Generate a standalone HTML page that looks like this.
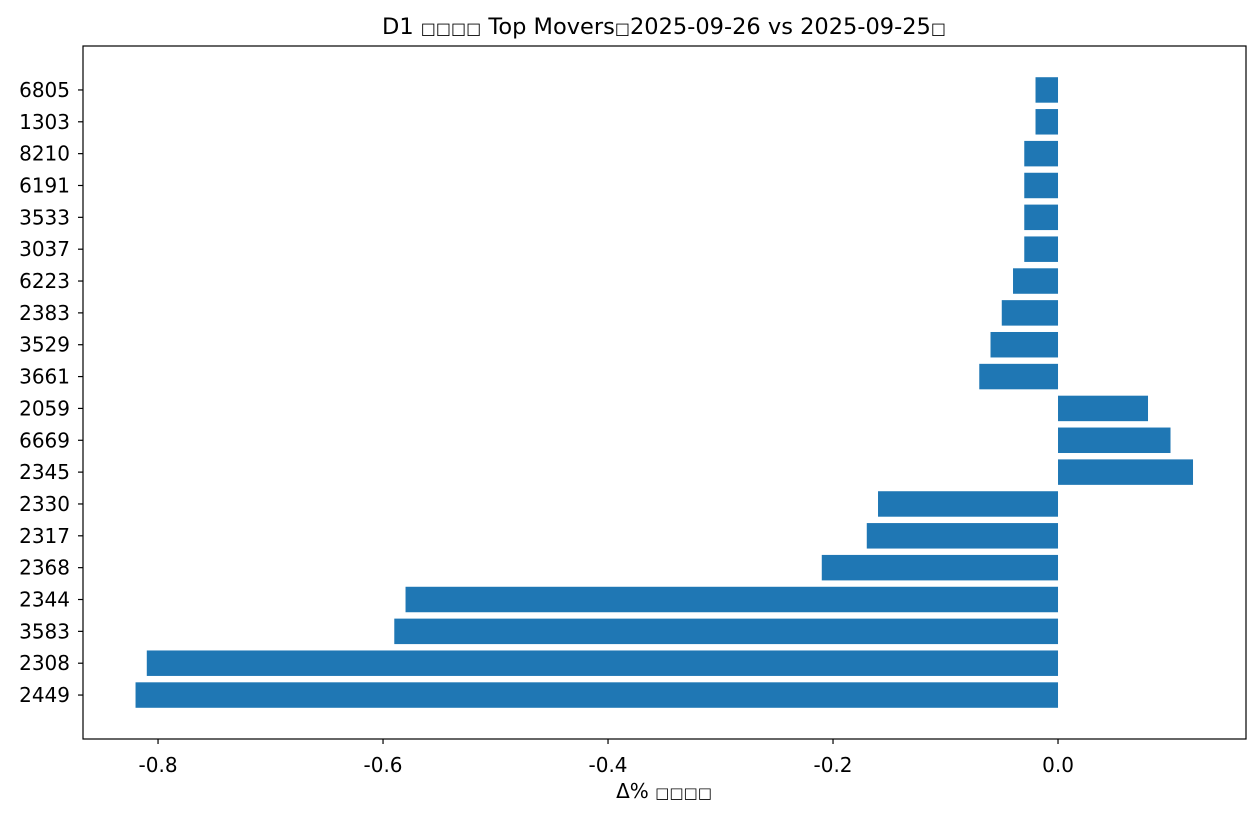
<!DOCTYPE html>
<html><head><meta charset="utf-8"><style>
html,body{margin:0;padding:0;background:#fff;}
svg{display:block;font-family:"DejaVu Sans","Liberation Sans",sans-serif;}
</style></head><body>
<svg id="chart" width="1260" height="817" viewBox="0 0 1260 817" xmlns="http://www.w3.org/2000/svg">
<text x="664" y="34" font-size="22.5" text-anchor="middle" fill="#000">D1 <tspan font-size="16">□□□□</tspan> Top Movers<tspan font-size="16">□</tspan>2025-09-26 vs 2025-09-25<tspan font-size="16">□</tspan></text>
<text x="664" y="798" font-size="20" text-anchor="middle" fill="#000">Δ% <tspan font-size="15">□□□□</tspan></text>
<g id="bars"></g>
<g id="xticks"></g>
<g id="yticks"></g>
<rect x="83" y="46" width="1163" height="693" fill="none" stroke="#000" stroke-width="1.2"/>
</svg>
<script>
const categories = ["2449","2308","3583","2344","2368","2317","2330","2345","6669","2059","3661","3529","2383","6223","3037","3533","6191","8210","1303","6805"];
const values = [-0.82,-0.81,-0.59,-0.58,-0.21,-0.17,-0.16,0.12,0.10,0.08,-0.07,-0.06,-0.05,-0.04,-0.03,-0.03,-0.03,-0.03,-0.02,-0.02];
const xTicks = [-0.8,-0.6,-0.4,-0.2,0.0];
const xTickLabels = ["-0.8","-0.6","-0.4","-0.2","0.0"];

const NS = "http://www.w3.org/2000/svg";
const plotL = 83, plotR = 1246, plotT = 46, plotB = 739;
const xMin = -0.8667, xMax = 0.1671;
const yMin = -1.38, yMax = categories.length - 1 + 1.38;
function xs(v){ return plotL + (v - xMin) / (xMax - xMin) * (plotR - plotL); }
function ys(i){ return plotB - (i - yMin) / (yMax - yMin) * (plotB - plotT); }
const step = ys(0) - ys(1);
const bh = step * 0.8;

const bars = document.getElementById("bars");
values.forEach((v, i) => {
  const r = document.createElementNS(NS, "rect");
  
  
  const x0 = xs(0), x1 = xs(v);
  r.setAttribute("x", Math.min(x0, x1));
  r.setAttribute("width", Math.abs(x1 - x0));
  r.setAttribute("y", ys(i) - bh / 2);
  r.setAttribute("height", bh);
  r.setAttribute("fill", "#1f77b4");
  bars.appendChild(r);
});

const xg = document.getElementById("xticks");
xTicks.forEach((t, k) => {
  const x = xs(t);
  const l = document.createElementNS(NS, "line");
  
  
  l.setAttribute("x1", x); l.setAttribute("x2", x);
  l.setAttribute("y1", plotB); l.setAttribute("y2", plotB + 5);
  l.setAttribute("stroke", "#000"); l.setAttribute("stroke-width", "1.2");
  xg.appendChild(l);
  const tx = document.createElementNS(NS, "text");
  
  
  tx.setAttribute("x", x); tx.setAttribute("y", plotB + 33);
  tx.setAttribute("font-size", "20"); tx.setAttribute("text-anchor", "middle");
  tx.textContent = xTickLabels[k];
  xg.appendChild(tx);
});

const yg = document.getElementById("yticks");
categories.forEach((c, i) => {
  const y = ys(i);
  const l = document.createElementNS(NS, "line");
  
  
  l.setAttribute("x1", plotL - 5); l.setAttribute("x2", plotL);
  l.setAttribute("y1", y); l.setAttribute("y2", y);
  l.setAttribute("stroke", "#000"); l.setAttribute("stroke-width", "1.2");
  yg.appendChild(l);
  const tx = document.createElementNS(NS, "text");
  
  
  tx.setAttribute("x", plotL - 13); tx.setAttribute("y", y + 7);
  tx.setAttribute("font-size", "20"); tx.setAttribute("text-anchor", "end");
  tx.textContent = c;
  yg.appendChild(tx);
});
</script>
</body></html>
